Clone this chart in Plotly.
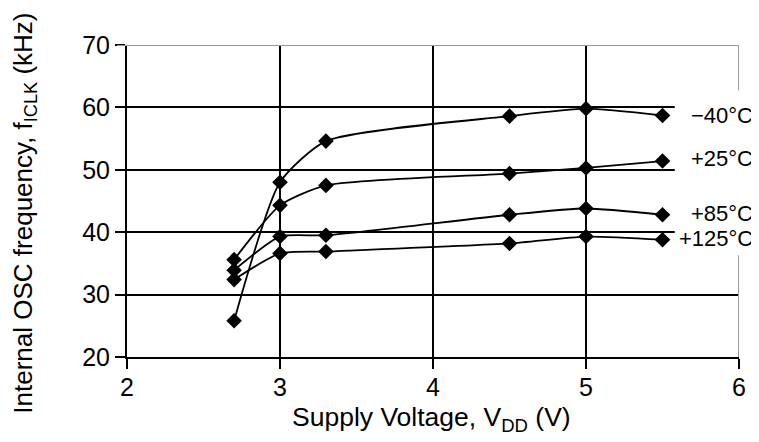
import plotly.graph_objects as go

voltage = [2.7, 3.0, 3.3, 4.5, 5.0, 5.5]
freq_m40 = [25.8, 48.0, 54.6, 58.6, 59.8, 58.7]
freq_p25 = [35.6, 44.3, 47.5, 49.4, 50.3, 51.4]
freq_p85 = [33.9, 39.3, 39.5, 42.8, 43.8, 42.8]
freq_p125 = [32.4, 36.6, 36.9, 38.2, 39.3, 38.8]
series_names = ["−40°C", "+25°C", "+85°C", "+125°C"]
label_y = [58.7, 51.8, 43.0, 39.0]
x_ticks = [2, 3, 4, 5, 6]
y_ticks = [20, 30, 40, 50, 60, 70]

FONT = "Liberation Sans, Arial, Helvetica, sans-serif"

fig = go.Figure()
for name, vals in zip(series_names, [freq_m40, freq_p25, freq_p85, freq_p125]):
    fig.add_trace(go.Scatter(
        x=voltage, y=vals, name=name, mode="lines+markers",
        line=dict(color="black", width=1.8, shape="spline", smoothing=0.6),
        marker=dict(symbol="diamond", size=12, color="black"),
        showlegend=False,
    ))

axis_common = dict(
    showgrid=True, gridcolor="black", gridwidth=2,
    showline=True, linecolor="black", linewidth=2,
    ticks="outside", ticklen=10, tickwidth=2, tickcolor="black",
    tickfont=dict(family=FONT, size=25, color="black"),
    zeroline=False,
)
fig.update_xaxes(range=[2, 6], tickvals=x_ticks, ticklabelstandoff=-3, **axis_common)
fig.update_yaxes(range=[20, 70], tickvals=y_ticks, ticksuffix="\u00a0\u00a0\u2009", **axis_common)

shapes = [
    # white box behind the temperature labels (hides grid ends)
    dict(type="rect", xref="x", yref="y", x0=5.58, x1=6.05, y0=36.3, y1=62.7,
         fillcolor="white", line=dict(width=0), layer="between"),
    # gray right border (two segments)
    dict(type="line", xref="x", yref="y", x0=6, x1=6, y0=62.7, y1=70,
         line=dict(color="#999999", width=2), layer="between"),
    dict(type="line", xref="x", yref="y", x0=6, x1=6, y0=20, y1=36.3,
         line=dict(color="#999999", width=2), layer="between"),
    # gray top border
    dict(type="line", xref="paper", yref="y", x0=-10 / 612, x1=1, y0=70, y1=70,
         line=dict(color="#999999", width=2), layer="above"),
]

annotations = []
for name, yv in zip(series_names, label_y):
    annotations.append(dict(
        x=1.026, xref="paper", y=yv, yref="y", text=name, showarrow=False,
        xanchor="right", yanchor="middle",
        font=dict(family=FONT, size=22, color="black"),
    ))
annotations.append(dict(
    x=0.497, xref="paper", y=-0.2, yref="paper",
    text="Supply Voltage, V<sub>DD</sub> (V)", showarrow=False,
    xanchor="center", yanchor="middle",
    font=dict(family=FONT, size=26.5, color="black"),
))
annotations.append(dict(
    x=-0.168, xref="paper", y=0.46, yref="paper",
    text="Internal OSC frequency, f<sub>ICLK</sub> (kHz)", showarrow=False,
    textangle=-90, xanchor="center", yanchor="middle",
    font=dict(family=FONT, size=26, color="black"),
))

# the page adds an 8 px body margin, so the figure is shrunk by 8 px
fig.update_layout(
    width=751, height=434,
    margin=dict(l=119, r=20, t=37, b=85),
    paper_bgcolor="white", plot_bgcolor="white",
    shapes=shapes, annotations=annotations,
    font=dict(family=FONT, color="black"),
)

fig.write_html("out.html")
